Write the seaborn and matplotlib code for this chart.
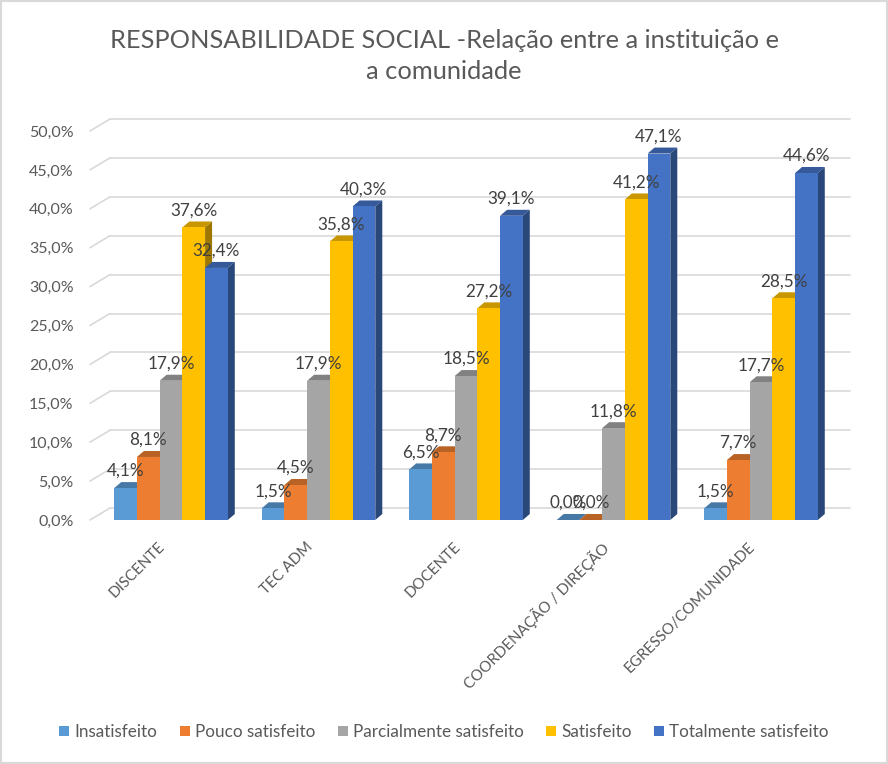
"""
Responsabilidade social - relação entre a instituição e a comunidade
Barras agrupadas com falso efeito 3D (estilo Excel)
"""

import numpy as np
import pandas as pd
import matplotlib
matplotlib.use("Agg")
import matplotlib.pyplot as plt
import matplotlib.transforms as mtrans
from matplotlib.patches import Polygon, Patch, Rectangle
import seaborn as sns

# 1. Dados
categorias = ["DISCENTE", "TEC ADM", "DOCENTE", "COORDENAÇÃO / DIREÇÃO", "EGRESSO/COMUNIDADE"]
niveis = ["Insatisfeito", "Pouco satisfeito", "Parcialmente satisfeito",
          "Satisfeito", "Totalmente satisfeito"]

insatisfeito = [4.1, 1.5, 6.5, 0.0, 1.5]
pouco        = [8.1, 4.5, 8.7, 0.0, 7.7]
parcial      = [17.9, 17.9, 18.5, 11.8, 17.7]
satisfeito   = [37.6, 35.8, 27.2, 41.2, 28.5]
totalmente   = [32.4, 40.3, 39.1, 47.1, 44.6]

yticks = [0, 5, 10, 15, 20, 25, 30, 35, 40, 45, 50]

CORES = ["#5B9BD5", "#ED7D31", "#A5A5A5", "#FFC000", "#4472C4"]
TXT   = "#595959"
GRID  = "#D9D9D9"

df = pd.DataFrame({
    "grupo": categorias * 5,
    "nivel": np.repeat(niveis, len(categorias)),
    "valor": insatisfeito + pouco + parcial + satisfeito + totalmente,
})

# 2. Figura
sns.set_theme(style="white")
plt.rcParams["font.family"] = ["Lato", "DejaVu Sans"]

W, H = 888, 764
fig = plt.figure(figsize=(W / 100, H / 100), dpi=100)
ax_left, ax_w = 97.25, 737.5
ax_bottom, ax_h = 520, 389
ax = fig.add_axes([ax_left / W, 1 - ax_bottom / H, ax_w / W, ax_h / H])
ax.set_facecolor("none")

sns.barplot(data=df, x="grupo", y="valor", hue="nivel", order=categorias,
            hue_order=niveis, palette=CORES, width=0.77, legend=False,
            linewidth=0, saturation=1, ax=ax)

ax.set_xlim(-0.5, 4.5)
ax.set_ylim(0, 50)
ax.set_xlabel("")
ax.set_ylabel("")
sns.despine(ax=ax, left=True, bottom=True)

# grade "de parede" (parede do fundo deslocada para cima, parede lateral inclinada)
px_per_unit = ax_h / 50
wall_dy = 12 / px_per_unit
disp_y = mtrans.blended_transform_factory(mtrans.IdentityTransform(), ax.transData)
for v in yticks:
    ax.plot([110, 850], [v + wall_dy, v + wall_dy], transform=disp_y,
            color=GRID, lw=1.2, zorder=0, clip_on=False)
    ax.plot([90, 110], [v, v + wall_dy], transform=disp_y,
            color=GRID, lw=1.2, zorder=0, clip_on=False)

ax.set_yticks(yticks)
ax.set_yticklabels([f"{v:.1f}".replace(".", ",") + "%" for v in yticks],
                   color=TXT, fontsize=11.5)
ax.tick_params(axis="y", length=0, pad=17)
ax.set_xticks(range(len(categorias)))
ax.set_xticklabels(categorias, rotation=45, ha="right", va="top",
                   rotation_mode="anchor", color=TXT, fontsize=10.8)
ax.tick_params(axis="x", length=0, pad=14)
shift = mtrans.ScaledTranslation(-0.13, 0, fig.dpi_scale_trans)
for lab in ax.get_xticklabels():
    lab.set_transform(lab.get_transform() + shift)


def escurecer(c, f):
    r, g, b, a = c
    return (r * f, g * f, b * f, a)


# 3. Faces 3D (topo e lateral) a partir das barras do seaborn
dx = 7 / 147.5
dy = 6 / px_per_unit
barras = sorted([p for p in ax.patches if isinstance(p, Rectangle)], key=lambda p: p.get_x())
for i, p in enumerate(barras):
    x0, w, h = p.get_x(), p.get_width(), p.get_height()
    cor = p.get_facecolor()
    base = 2 + i * 0.01
    p.set_zorder(base + 0.005)
    topo = Polygon([(x0, h), (x0 + dx, h + dy), (x0 + w + dx, h + dy), (x0 + w, h)],
                   closed=True, facecolor=escurecer(cor, 0.78), lw=0, zorder=base)
    lado = Polygon([(x0 + w, 0), (x0 + w + dx, dy), (x0 + w + dx, h + dy), (x0 + w, h)],
                   closed=True, facecolor=escurecer(cor, 0.62), lw=0, zorder=base)
    ax.add_patch(topo)
    ax.add_patch(lado)
    rotulo = f"{h:.1f}".replace(".", ",") + "%"
    ax.annotate(rotulo, (x0 + w / 2, h), xytext=(0, 9), textcoords="offset pixels",
                ha="center", va="bottom", fontsize=12.3, color="#404040",
                zorder=10, annotation_clip=False)

# 4. Título, legenda, moldura
fig.text(0.5, 1 - 56 / H,
         "RESPONSABILIDADE SOCIAL -Relação entre a instituição e\na comunidade",
         ha="center", va="center", fontsize=18.3, color=TXT, linespacing=1.45)

handles = [Patch(facecolor=c, edgecolor="none") for c in CORES]
leg = fig.legend(handles, niveis, loc="center", bbox_to_anchor=(0.5, 1 - 732 / H),
                 ncol=5, frameon=False, fontsize=12.3, handlelength=0.6,
                 handleheight=0.6, handletextpad=0.3, columnspacing=1.3)
for t in leg.get_texts():
    t.set_color(TXT)

fig.patches.append(Rectangle((0.001, 0.001), 0.998, 0.998, transform=fig.transFigure,
                             fill=False, edgecolor=GRID, lw=1.5))

fig.savefig("out.png", dpi=100)
plt.close()
